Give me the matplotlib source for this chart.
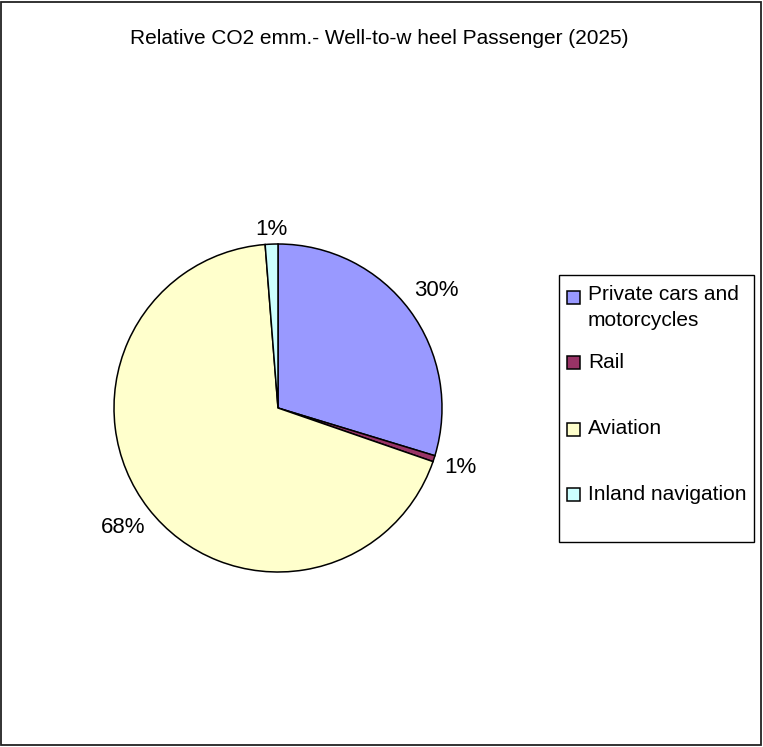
import matplotlib
matplotlib.use('Agg')
import matplotlib.pyplot as plt
from matplotlib.patches import Rectangle

plt.rcParams['font.family'] = ['Liberation Sans', 'DejaVu Sans']

categories = ['Private cars and\nmotorcycles', 'Rail', 'Aviation', 'Inland navigation']
shares = [29.7, 0.6, 68.45, 1.25]
colours = ['#9999FF', '#993366', '#FFFFCC', '#CCFFFF']
title = 'Relative CO2 emm.- Well-to-w heel Passenger (2025)'

W, H = 763, 747
fs = 15
fig = plt.figure(figsize=(W / 100, H / 100), dpi=100)

def fx(x):
    return x / W

def fy(y):
    return 1 - y / H

# whole chart frame
fig.add_artist(Rectangle((fx(1.5), fy(745)), 759.5 / W, 743.5 / H, transform=fig.transFigure,
                         fill=False, edgecolor='#222222', lw=1.3))

fig.text(fx(379), fy(38), title, ha='center', va='center', fontsize=fs)

# pie, centre (278, 408), radius 164 px
cx, cy, r = 278, 408, 164
ax = fig.add_axes([fx(cx - r), fy(cy + r), 2 * r / W, 2 * r / H])
wedges, texts, pcts = ax.pie(shares, colors=colours, startangle=90, counterclock=False,
                             autopct='%.0f%%', pctdistance=1.0,
                             wedgeprops=dict(edgecolor='black', linewidth=1.1),
                             textprops=dict(fontsize=16))
# push each percentage out to its own distance from the centre
label_dist = [1.20, 1.17, 1.19, 1.09]
for t, d in zip(pcts, label_dist):
    x, y = t.get_position()
    t.set_position((x * d, y * d))
for w in wedges:
    w.set_clip_on(False)
ax.set_xlim(-1, 1)
ax.set_ylim(-1, 1)
ax.axis('off')

# legend box drawn by hand
fig.add_artist(Rectangle((fx(559), fy(542)), 195 / W, 267 / H, transform=fig.transFigure,
                         fill=False, edgecolor='black', lw=1))
marker_y = [297.5, 362.5, 429, 494]
for lab, col, y in zip(categories, colours, marker_y):
    fig.add_artist(Rectangle((fx(567), fy(y + 6.5)), 13 / W, 13 / H, transform=fig.transFigure,
                             facecolor=col, edgecolor='black', lw=1.1))
    if '\n' in lab:
        fig.text(fx(588), fy(y - 12), lab, ha='left', va='top', fontsize=fs, linespacing=1.42)
    else:
        fig.text(fx(588), fy(y), lab, ha='left', va='center', fontsize=fs)

fig.savefig('out.png', dpi=100)
